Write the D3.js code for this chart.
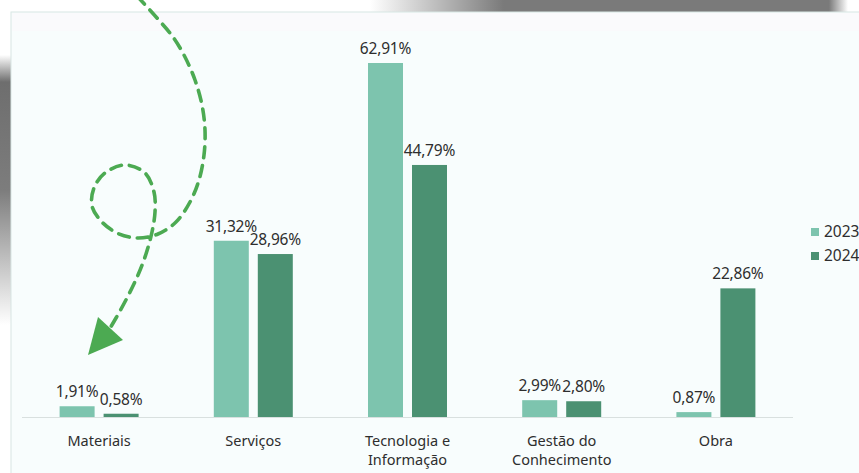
<!DOCTYPE html>
<html>
<head>
<meta charset="utf-8">
<script src="https://cdn.jsdelivr.net/npm/d3@7"></script>
<style>
  html, body { margin: 0; padding: 0; background: #ffffff; }
  svg { display: block; }
</style>
</head>
<body>
<svg id="chart" width="859" height="473"></svg>
<script>
// ---- Data ----
const categories = ["Materiais", "Serviços", "Tecnologia e Informação", "Gestão do Conhecimento", "Obra"];
const categoryLines = [["Materiais"], ["Serviços"], ["Tecnologia e", "Informação"], ["Gestão do", "Conhecimento"], ["Obra"]];
const seriesNames = ["2023", "2024"];
const values2023 = [1.91, 31.32, 62.91, 2.99, 0.87];
const values2024 = [0.58, 28.96, 44.79, 2.80, 22.86];
const valueLabels2023 = ["1,91%", "31,32%", "62,91%", "2,99%", "0,87%"];
const valueLabels2024 = ["0,58%", "28,96%", "44,79%", "2,80%", "22,86%"];

// decorative dashed arrow (annotation, not data)
const arrowPath = [[137,-4],[157,18],[173,37],[185,57],[195,80],[202,105],[205,130],[204,155],[199,180],[190,202],[176,222],[158,234],[137,238],[117,233],[101,221],[92,206],[94,188],[105,173],[125,165],[145,173],[154,192],[155,212],[152,232],[146,254],[138,275],[128,296],[116,318],[106,335]];

const colors = { "2023": "#7dc4ae", "2024": "#4b9172" };
const textColor = "#2e2e2e";
const font = "'Noto Sans', 'Open Sans', sans-serif";

const svg = d3.select("#chart");
const defs = svg.append("defs");

// shadows
const gTop = defs.append("linearGradient").attr("id", "shTop").attr("x1", "0").attr("x2", "1").attr("y1", "0").attr("y2", "0");
gTop.append("stop").attr("offset", "0").attr("stop-color", "#7a7a7a").attr("stop-opacity", 0);
gTop.append("stop").attr("offset", "0.28").attr("stop-color", "#7a7a7a").attr("stop-opacity", 1);
gTop.append("stop").attr("offset", "0.96").attr("stop-color", "#7a7a7a").attr("stop-opacity", 1);
gTop.append("stop").attr("offset", "1").attr("stop-color", "#7a7a7a").attr("stop-opacity", 0);
const gLeft = defs.append("linearGradient").attr("id", "shLeft").attr("x1", "0").attr("x2", "0").attr("y1", "0").attr("y2", "1");
gLeft.append("stop").attr("offset", "0").attr("stop-color", "#6e6e6e").attr("stop-opacity", 0);
gLeft.append("stop").attr("offset", "0.1").attr("stop-color", "#6e6e6e").attr("stop-opacity", 1);
gLeft.append("stop").attr("offset", "0.5").attr("stop-color", "#6e6e6e").attr("stop-opacity", 0.9);
gLeft.append("stop").attr("offset", "1").attr("stop-color", "#6e6e6e").attr("stop-opacity", 0);

svg.append("rect").attr("x", 370).attr("y", 0).attr("width", 478).attr("height", 12).attr("fill", "url(#shTop)");
svg.append("rect").attr("x", 0).attr("y", 55).attr("width", 11).attr("height", 270).attr("fill", "url(#shLeft)");

// panel
svg.append("rect").attr("x", 11).attr("y", 12).attr("width", 860).attr("height", 470)
  .attr("fill", "#f8fdfd").attr("stroke", "#d8e6e4").attr("stroke-width", 1);
svg.append("rect").attr("x", 12).attr("y", 13).attr("width", 850).attr("height", 18).attr("fill", "#fcf9fc").attr("opacity", 0.6);

// scales
const x0 = d3.scaleBand().domain(categories).range([22, 793]).paddingInner(0.4877).paddingOuter(0.4877 / 2);
const x1 = d3.scaleBand().domain(seriesNames).range([0, x0.bandwidth()]).paddingInner(0.2045);
const y = d3.scaleLinear().domain([0, 70]).range([417, 417 - 70 * (354 / 62.91)]);

// baseline
svg.append("line").attr("x1", 22).attr("x2", 793).attr("y1", y(0) + 0.5).attr("y2", y(0) + 0.5)
  .attr("stroke", "#d9e0df").attr("stroke-width", 1);

const rows = categories.map((c, i) => ({
  cat: c,
  items: [
    { s: "2023", v: values2023[i], lab: valueLabels2023[i] },
    { s: "2024", v: values2024[i], lab: valueLabels2024[i] }
  ]
}));

const groups = svg.append("g").selectAll("g").data(rows).join("g")
  .attr("transform", d => `translate(${x0(d.cat)},0)`);

groups.selectAll("rect").data(d => d.items).join("rect")
  .attr("x", d => x1(d.s)).attr("width", x1.bandwidth())
  .attr("y", d => y(d.v)).attr("height", d => y(0) - y(d.v))
  .attr("fill", d => colors[d.s]);

groups.selectAll("text.val").data(d => d.items).join("text").attr("class", "val")
  .attr("x", d => x1(d.s) + x1.bandwidth() / 2).attr("y", d => y(d.v) - 9)
  .attr("text-anchor", "middle").attr("font-family", font).attr("font-size", 15.5)
  .attr("letter-spacing", -0.2)
  .attr("fill", textColor).text(d => d.lab);

// category labels
const catG = svg.append("g").selectAll("text").data(categories).join("text")
  .attr("text-anchor", "middle").attr("font-family", font).attr("font-size", 14.5).attr("fill", textColor)
  .attr("x", d => x0(d) + x0.bandwidth() / 2);
catG.each(function(d, i) {
  d3.select(this).selectAll("tspan").data(categoryLines[i]).join("tspan")
    .attr("x", x0(d) + x0.bandwidth() / 2)
    .attr("y", (t, j) => 446 + j * 19)
    .text(t => t);
});

// legend
const leg = svg.append("g").selectAll("g").data(seriesNames).join("g")
  .attr("transform", (d, i) => `translate(811,${228 + i * 24})`);
leg.append("rect").attr("width", 8).attr("height", 8).attr("fill", d => colors[d]);
leg.append("text").attr("x", 13).attr("y", 9).attr("font-family", font).attr("font-size", 15.5)
  .attr("fill", textColor).text(d => d);

// decorative dashed arrow
svg.append("path").attr("d", d3.line().curve(d3.curveCatmullRom)(arrowPath))
  .attr("fill", "none").attr("stroke", "#4caa52").attr("stroke-width", 3.6)
  .attr("stroke-dasharray", "11,8").attr("stroke-linecap", "round");
svg.append("path").attr("d", "M88,355 L98,317 L123,340 Z").attr("fill", "#4caa52");
</script>
</body>
</html>
